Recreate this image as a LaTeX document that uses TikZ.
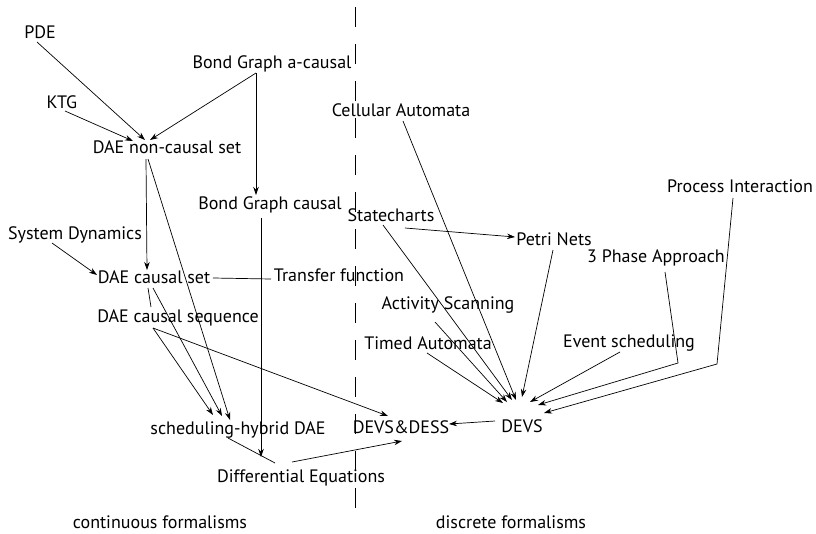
\documentclass[tikz,border=0pt]{standalone}
\usepackage{fontspec}
\setmainfont{PT Sans}
\usepackage{tikz}
\usetikzlibrary{arrows.meta, calc}

\tikzset{
    formalism/.style={inner sep=0pt, text height=12.5pt, text depth=0pt, font=\fontsize{18}{20}\selectfont},
    link/.style={line width=0.7pt, -{Stealth[length=8pt, width=5.5pt]}},
    plain/.style={line width=0.7pt}
}

\begin{document}
\begin{tikzpicture}[x=1pt, y=-1pt]

%%Paramaters
%% position of the dashed separation line
\def\sepPos{355}

\useasboundingbox (0,0) rectangle (816,533);

    %% continuous side
    \node[formalism] (pde) at (40, 32) {PDE};
    \node[formalism] (bgac) at (272, 62) {Bond Graph a-causal};
    \node[formalism] (ktg) at (62, 102) {KTG};
    \node[formalism] (daenc) at (167, 147) {DAE non-causal set};
    \node[formalism] (bgc) at (270, 203) {Bond Graph causal};
    \node[formalism] (sysdyn) at (75, 233) {System Dynamics};
    \node[formalism] (daecs) at (154, 277) {DAE causal set};
    \node[formalism] (transfer) at (339, 275) {Transfer function};
    \node[formalism] (daeseq) at (178, 316) {DAE causal sequence};
    \node[formalism] (schedhyb) at (238, 428) {scheduling-hybrid DAE};
    \node[formalism] (diffeq) at (301, 476) {Differential Equations};

    %% discrete side
    \node[formalism] (cell) at (401, 110) {Cellular Automata};
    \node[formalism] (procint) at (740, 186) {Process Interaction};
    \node[formalism] (state) at (391, 215) {Statecharts};
    \node[formalism] (petri) at (554, 239) {Petri Nets};
    \node[formalism] (phase3) at (656, 256) {3 Phase Approach};
    \node[formalism] (activity) at (448, 303) {Activity Scanning};
    \node[formalism] (timed) at (428, 343) {Timed Automata};
    \node[formalism] (event) at (629, 341) {Event scheduling};
    \node[formalism] (devsdess) at (401, 427) {DEVS\&DESS};
    \node[formalism] (devs) at (522, 426) {DEVS};

    %% captions
    \node[formalism] (cont) at (160, 522) {continuous formalisms};
    \node[formalism] (disc) at (511, 522) {discrete formalisms};

    %% separation line
    \coordinate (septop) at (\sepPos, 7);
    \coordinate (sepbot) at (\sepPos, 518);
    \draw[plain, dash pattern=on 20pt off 17pt] (septop) -- (sepbot);


    %% continuous links
    \draw[link] ($(pde)+(-3, 10)$) -- ($(daenc)+(-22, -7)$);
    \draw[link] ($(ktg)+(3, 9)$) -- ($(daenc)+(-34, -6)$);
    \draw[link] ($(bgac)+(-16, 11)$) -- ($(daenc)+(-17, -7)$);
    \draw[link] ($(bgac)+(-16, 11)$) -- ($(bgc)+(-14, -8)$);
    \draw[link] ($(daenc)+(-21, 12)$) -- ($(daecs)+(-7, -7)$);
    \draw[link] ($(daenc)+(-19, 12)$) -- ($(schedhyb)+(-8, -8)$);
    \draw[link] ($(sysdyn)+(-23, 10)$) -- ($(daecs)+(-57, -2)$);
    \draw[plain] ($(daecs)+(59, 1)$) -- ($(transfer)+(-68, 4)$);
    \draw[link] ($(bgc)+(-9, 15)$) -- ($(diffeq)+(-40, -19)$);
    \draw[plain] ($(daecs)+(-6, 11)$) -- ($(daeseq)+(-27, -9)$);
    \draw[link] ($(daecs)+(-1, 11)$) -- ($(schedhyb)+(-16, -12)$);
    \draw[link] ($(daeseq)+(-25, 12)$) -- ($(schedhyb)+(-25, -13)$);
    \draw[link] ($(daeseq)+(-25, 12)$) -- ($(devsdess)+(-13, -11)$);
    \draw[plain] ($(schedhyb)+(-10, 10)$) -- ($(diffeq)+(-26, -13)$);
    \draw[link] ($(diffeq)+(-9, -14)$) -- ($(devsdess)+(1, 14)$);

    %% discrete links
    \draw[link] ($(devs)+(-27, -5)$) -- ($(devsdess)+(48, -3)$);
    \draw[link] ($(timed)+(-1, 10)$) -- ($(devs)+(-19, -23)$);
    \draw[link] ($(activity)+(-13, 19)$) -- ($(devs)+(-15, -24)$);
    \draw[link] ($(state)+(-8, 10)$) -- ($(devs)+(-10, -26)$);
    \draw[link] ($(cell)+(2, 11)$) -- ($(devs)+(-6, -26)$);
    \draw[link] ($(petri)+(-1, 11)$) -- ($(devs)+(0, -29)$);
    \draw[link] ($(event)+(-9, 11)$) -- ($(devs)+(8, -24)$);
    \draw[link] ($(phase3)+(9, 16)$) -- ($(phase3)+(22, 107)$) -- ($(devs)+(16, -21)$);
    \draw[link] ($(procint)+(-7, 12)$) -- ($(procint)+(-23, 178)$) -- ($(devs)+(22, -13)$);
    \draw[link] ($(state)+(14, 13)$) -- ($(petri)+(-39, -2)$);

\end{tikzpicture}
\end{document}
